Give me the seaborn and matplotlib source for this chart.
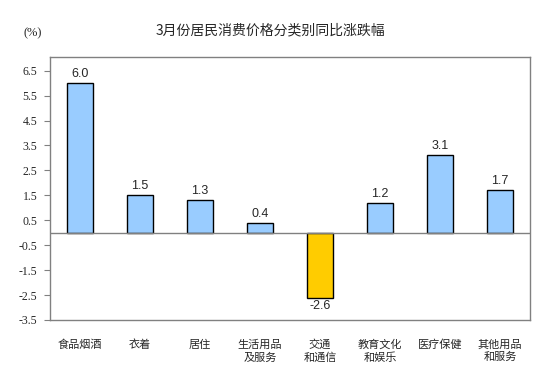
import matplotlib
matplotlib.use("Agg")
import matplotlib.pyplot as plt
import seaborn as sns
import pandas as pd

# chart values
categories = ["食品烟酒", "衣着", "居住", "生活用品\n及服务", "交通\n和通信",
              "教育文化\n和娱乐", "医疗保健", "其他用品\n和服务"]
values = [6.0, 1.5, 1.3, 0.4, -2.6, 1.2, 3.1, 1.7]
y_ticks = [6.5, 5.5, 4.5, 3.5, 2.5, 1.5, 0.5, -0.5, -1.5, -2.5, -3.5]

df = pd.DataFrame({"category": categories, "value": values})
df["sign"] = ["up" if v >= 0 else "down" for v in values]

sns.set_theme(style="white")
plt.rcParams["font.family"] = ["Noto Sans CJK SC", "DejaVu Sans"]

fig = plt.figure(figsize=(5.53, 3.84), dpi=100)
ax = fig.add_axes([50 / 553, 1 - 320 / 384, 480 / 553, 263 / 384])

sns.barplot(data=df, x="category", y="value", hue="sign",
            palette={"up": "#99CCFF", "down": "#FFCC00"}, saturation=1,
            edgecolor="black", linewidth=1.0, width=0.42,
            legend=False, ax=ax, dodge=False)

ax.set_ylim(-3.5, 7.05)
ax.set_xlim(-0.5, 7.5)
ax.axhline(0, color="#808080", linewidth=1.0, zorder=1)

ax.set_yticks(y_ticks)
ax.set_yticklabels([f"{t:.1f}" for t in y_ticks], family="Liberation Serif", fontsize=8.5)
ax.tick_params(axis="y", left=True, length=4, width=0.8, color="#808080", pad=5)
ax.tick_params(axis="x", bottom=False, pad=8)
ax.set_xticks(range(len(categories)))
ax.set_xticklabels(categories, fontsize=8, linespacing=1.3, va="top")

for spine in ax.spines.values():
    spine.set_color("#808080")
    spine.set_linewidth(1.0)

ax.set_xlabel("")
ax.set_ylabel("")

for i, v in enumerate(values):
    if v >= 0:
        ax.text(i, v + 0.12, f"{v:.1f}", ha="center", va="bottom",
                family="Liberation Sans", fontsize=9)
    else:
        ax.text(i, v - 0.08, f"{v:.1f}", ha="center", va="top",
                family="Liberation Sans", fontsize=9)

fig.text(270 / 553, 1 - 30 / 384, "3月份居民消费价格分类别同比涨跌幅",
         ha="center", va="center", fontsize=10)
fig.text(33 / 553, 1 - 33 / 384, "(%)", ha="center", va="center",
         family="Liberation Serif", fontsize=9)

fig.savefig("out.png", dpi=100)
